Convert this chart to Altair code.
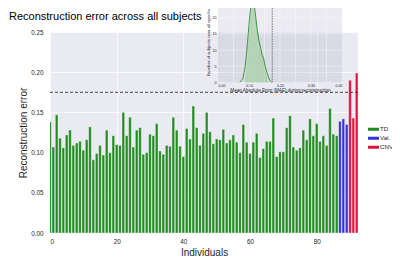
import altair as alt
import pandas as pd

# ---- data ----
td_values = [0.138,0.107,0.147,0.118,0.106,0.122,0.128,0.109,0.112,0.114,
             0.103,0.116,0.132,0.091,0.099,0.109,0.097,0.128,0.100,0.121,
             0.110,0.109,0.150,0.121,0.144,0.107,0.128,0.131,0.098,0.100,
             0.123,0.121,0.136,0.102,0.098,0.109,0.108,0.144,0.128,0.108,
             0.095,0.130,0.117,0.158,0.131,
             0.109,0.124,0.150,0.126,0.111,0.117,0.116,0.129,0.112,0.116,
             0.122,0.113,0.100,0.135,0.113,0.099,0.113,0.124,0.094,0.105,
             0.114,0.114,0.143,0.095,0.101,0.101,0.131,0.146,0.107,0.103,
             0.106,0.128,0.116,0.142,0.121,0.136,0.114,0.121,0.109,0.155,
             0.123,0.121]
val_values = [0.139, 0.142, 0.135]
cnv_values = [0.190, 0.143, 0.199]
groups = ["TD", "Val.", "CNV"]
colors = ["#228B22", "#3333D6", "#DC143C"]
threshold = 0.175

hist_bins = [0.0875,0.0900,0.0925,0.0950,0.0975,0.1000,0.1025,0.1050,0.1075,0.1100,
             0.1125,0.1150,0.1175,0.1200,0.1225,0.1250,0.1275,0.1300,0.1325,0.1350,
             0.1375,0.1400,0.1425,0.1450,0.1475,0.1500,0.1525,0.1550,0.1575,0.1600]
hist_counts = [2,4,7,11,14,17,20,23,24,25,
               25,24,22,20,18,16,15,13,12,11,
               10,9,8,7.5,6,4.5,3.5,2.5,1.5,0.5]
bin_width = 0.0025
kde_x = [0.070,0.080,0.088,0.095,0.100,0.105,0.110,0.113,0.117,0.122,
         0.127,0.132,0.137,0.142,0.147,0.152,0.158,0.165,0.172]
kde_y = [0,1,5,12,18,23,24.6,25,24,20,16,13,11,8.5,7.5,5,3,1,0]
inset_xticks = [0.00,0.05,0.10,0.15,0.20,0.25,0.30,0.35,0.40]
inset_yticks = [0,5,10,15,20,25]

# ---- tables ----
all_vals = td_values + val_values + cnv_values
all_groups = ["TD"] * len(td_values) + ["Val."] * len(val_values) + ["CNV"] * len(cnv_values)
main_df = pd.DataFrame({
    "idx": list(range(len(all_vals))),
    "value": all_vals,
    "group": all_groups,
})
main_df["lo"] = main_df["idx"] - 0.4
main_df["hi"] = main_df["idx"] + 0.4

hist_df = pd.DataFrame({"b0": hist_bins, "count": hist_counts})
hist_df["b1"] = hist_df["b0"] + bin_width
kde_df = pd.DataFrame({"x": kde_x, "y": kde_y})
gx_df = pd.DataFrame({"x": inset_xticks[1:-1]})
gy_df = pd.DataFrame({"y": inset_yticks[1:-1]})

FONT = "Liberation Sans"
TXT = "#262626"

xs = alt.Scale(domain=[0, 92.4], nice=False, zero=False)
ys = alt.Scale(domain=[0, 0.25], nice=False)

bars = alt.Chart(main_df).mark_rect(clip=True, stroke="white", strokeWidth=0.4).encode(
    x=alt.X("lo:Q", scale=xs, title="Individuals",
            axis=alt.Axis(values=[0, 20, 40, 60, 80], format="d", labelFontSize=6.3,
                          titleFontSize=10, labelPadding=5, titlePadding=3,
                          domain=False, ticks=False, gridColor="white", gridWidth=0.8,
                          labelColor=TXT, titleColor=TXT, labelFont=FONT, titleFont=FONT,
                          titleFontWeight="normal")),
    x2="hi:Q",
    y=alt.Y("value:Q", scale=ys, title="Reconstruction error",
            axis=alt.Axis(values=[0, 0.05, 0.10, 0.15, 0.20, 0.25], format=".2f",
                          labelFontSize=6.3, titleFontSize=10, labelPadding=7,
                          titlePadding=2, domain=False, ticks=False,
                          gridColor="white", gridWidth=0.8,
                          labelColor=TXT, titleColor=TXT, labelFont=FONT, titleFont=FONT,
                          titleFontWeight="normal")),
    y2=alt.datum(0),
    color=alt.Color("group:N", scale=alt.Scale(domain=groups, range=colors),
                    legend=alt.Legend(title=None, orient="none", legendX=318, legendY=93.8,
                                      symbolType="M-1,-0.27L1,-0.27L1,0.27L-1,0.27Z",
                                      symbolSize=121, symbolStrokeWidth=0,
                                      labelFontSize=6.2, labelFont=FONT, clipHeight=7,
                                      labelColor=TXT, rowPadding=2, padding=0,
                                      labelOffset=1)),
)

hline = alt.Chart(pd.DataFrame({"t": [threshold]})).mark_rule(
    color="#333333", strokeDash=[3, 2], strokeWidth=0.9
).encode(y=alt.Y("t:Q", scale=ys))

main_layer = alt.layer(bars, hline)

# inset scales (pixel ranges inside plot area)
ixs = alt.Scale(domain=[0, 0.4], range=[168, 292], nice=False, zero=False)
iys = alt.Scale(domain=[0, 25], range=[50.3, -30.3], nice=False, zero=False)

inset_bg = alt.Chart(pd.DataFrame({"a": [0]})).mark_rect(
    fill="#9c9cb8", opacity=0.2
).encode(
    x=alt.X("a:Q", scale=ixs, title="Mean Absolute Error (MAE) during reconstruction",
            axis=alt.Axis(orient="bottom", offset=-150.7, values=inset_xticks, format=".2f",
                          labelFontSize=3.6, titleFontSize=4.6, labelPadding=1.5,
                          titlePadding=0, domain=False, ticks=False, grid=False,
                          labelColor=TXT, titleColor=TXT, labelFont=FONT, titleFont=FONT,
                          titleFontWeight="normal")),
    x2=alt.datum(0.4),
    y=alt.Y("a:Q", scale=iys, title="Number of subjects over all epochs",
            axis=alt.Axis(orient="left", offset=-168, values=inset_yticks, format="d",
                          labelFontSize=3.6, titleFontSize=4.3, labelPadding=2,
                          titlePadding=2, domain=False, ticks=False, grid=False,
                          labelColor=TXT, titleColor=TXT, labelFont=FONT, titleFont=FONT,
                          titleFontWeight="normal")),
    y2=alt.datum(25),
)

inset_gx = alt.Chart(gx_df).mark_rule(color="white", strokeWidth=0.5, opacity=0.7).encode(
    x=alt.X("x:Q", scale=ixs), y=alt.datum(0), y2=alt.datum(25))
inset_gy = alt.Chart(gy_df).mark_rule(color="white", strokeWidth=0.5, opacity=0.7).encode(
    y=alt.Y("y:Q", scale=iys), x=alt.datum(0), x2=alt.datum(0.4))

inset_hist = alt.Chart(hist_df).mark_rect(
    fill="#6fb36f", opacity=0.75, stroke="#e8f3e8", strokeWidth=0.3
).encode(x=alt.X("b0:Q", scale=ixs), x2="b1:Q",
         y=alt.Y("count:Q", scale=iys), y2=alt.datum(0))

inset_kde = alt.Chart(kde_df).mark_line(color="#2e8b2e", strokeWidth=0.9).encode(
    x=alt.X("x:Q", scale=ixs), y=alt.Y("y:Q", scale=iys))

inset_vline = alt.Chart(pd.DataFrame({"t": [threshold]})).mark_rule(
    color="#555555", strokeDash=[1.5, 1], strokeWidth=0.8
).encode(x=alt.X("t:Q", scale=ixs), y=alt.datum(0), y2=alt.datum(25))

inset_layer = alt.layer(inset_bg, inset_gx, inset_gy, inset_hist, inset_kde, inset_vline)

chart = alt.layer(main_layer, inset_layer).resolve_scale(
    x="independent", y="independent"
).properties(
    width=308, height=201,
    title=alt.TitleParams("Reconstruction error across all subjects", anchor="start",
                          frame="group", dx=-41, fontSize=11, font=FONT,
                          fontWeight="normal", color="black", baseline="alphabetic",
                          offset=-31),
    autosize=alt.AutoSizeParams(type="none"),
    padding={"left": 42, "top": 24, "right": 34, "bottom": 26},
).configure_view(fill="#EAEAF2", stroke=None)

chart.save("out.html", embed_options={"renderer": "svg", "actions": False})
